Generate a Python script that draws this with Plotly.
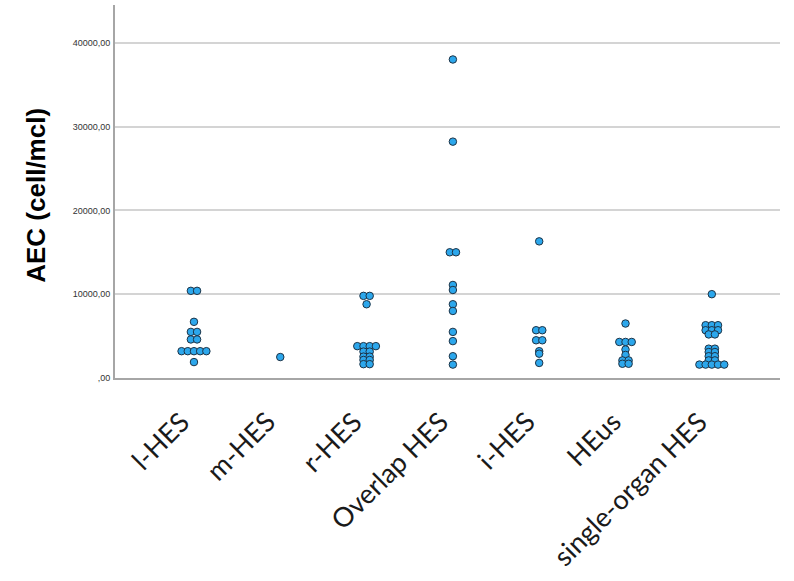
import plotly.graph_objects as go

categories = ["l-HES", "m-HES", "r-HES", "Overlap HES", "i-HES", "HEus", "single-organ HES"]

l_hes = [10400, 10400, 6700, 5500, 5500, 4600, 4600, 3200, 3200, 3200, 3200, 3200, 1900]
m_hes = [2500]
r_hes = [9800, 9800, 8800, 3800, 3800, 3800, 3800, 3150, 3150, 2550, 2550, 2150, 2150, 1650, 1650]
overlap_hes = [38000, 28200, 15000, 15000, 11100, 10500, 8800, 8000, 5500, 4400, 2600, 1600]
i_hes = [16300, 5700, 5700, 4500, 4500, 3200, 2900, 1800]
heus = [6500, 4300, 4300, 4300, 3400, 2750, 2100, 2100, 1700, 1700]
single_organ = [10000, 6300, 6300, 6300, 5700, 5700, 5700, 5200, 5200,
                3500, 3500, 3100, 3100, 2600, 2600, 2100, 2100,
                1600, 1600, 1600, 1600, 1600]

series = [l_hes, m_hes, r_hes, overlap_hes, i_hes, heus, single_organ]

y_tickvals = [0, 10000, 20000, 30000, 40000]
y_ticktext = [",00", "10000,00", "20000,00", "30000,00", "40000,00"]

# layout geometry
W, H = 794, 581
m_l, m_r, m_t, m_b = 115, 14, 5, 203
x_range = [-0.915, 6.79]
plot_w = W - m_l - m_r
px_per_cat = plot_w / (x_range[1] - x_range[0])
dot_px = 6.2
step = dot_px / px_per_cat

xs, ys = [], []
for ci, vals in enumerate(series):
    groups = {}
    for v in vals:
        groups[v] = groups.get(v, 0) + 1
    for v, n in groups.items():
        for k in range(n):
            xs.append(ci + (k - (n - 1) / 2) * step)
            ys.append(v)

fig = go.Figure()
fig.add_trace(go.Scatter(
    x=xs, y=ys, mode="markers",
    marker=dict(size=7.5, color="#2ca7ec", line=dict(color="#1d3346", width=1)),
    hoverinfo="y", showlegend=False,
))

annotations = [dict(
    text="<b>AEC (cell/mcl)</b>", textangle=-90, xref="paper", yref="paper",
    x=-0.118, y=0.49, xanchor="center", yanchor="middle", showarrow=False,
    font=dict(family="Liberation Sans", size=26, color="black"),
)]
for ci, name in enumerate(categories):
    annotations.append(dict(
        text=name, textangle=-45, x=ci, y=0, xref="x", yref="y",
        xanchor="right", yanchor="top", xshift=4, yshift=-24,
        showarrow=False, font=dict(family="Lato", size=27, color="#1a1a1a"),
    ))

fig.update_layout(
    width=W, height=H,
    margin=dict(l=m_l, r=m_r, t=m_t, b=m_b),
    paper_bgcolor="white", plot_bgcolor="white",
    xaxis=dict(
        range=x_range, tickmode="array", tickvals=list(range(len(categories))),
        showticklabels=False, showgrid=False, zeroline=False,
        showline=True, linecolor="#a6a6a6", linewidth=2, ticks="",
    ),
    yaxis=dict(
        range=[0, 44500], tickmode="array", tickvals=y_tickvals, ticktext=y_ticktext,
        showgrid=True, gridcolor="#d4d4d4", gridwidth=1.5, zeroline=False,
        showline=True, linecolor="#a6a6a6", linewidth=2, ticks="",
        tickfont=dict(family="Liberation Sans", size=9, color="#333333"),
        ticklabelstandoff=1,
    ),
    annotations=annotations,
)

fig.write_html("out.html")
